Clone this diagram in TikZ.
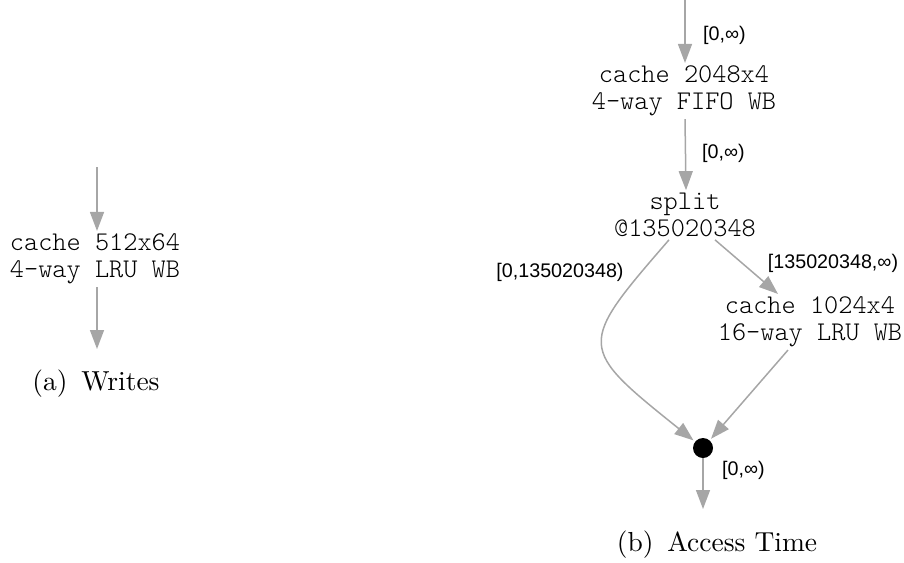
\documentclass[tikz,border=0pt]{standalone}
\usepackage{fontspec}
\newfontfamily\monof{lmmonolt10-regular.otf}
\newfontfamily\labf{Liberation Sans}
\newfontfamily\captf{lmroman10-regular.otf}
\usetikzlibrary{arrows.meta}
\definecolor{edgegray}{RGB}{166,166,166}
\tikzset{
  arr/.style={draw=edgegray, line width=1.5pt, -{Triangle[length=19pt,width=14pt]}},
  boxtext/.style={align=center, inner sep=3pt, font=\monof\fontsize{27}{26.5}\selectfont},
  elabel/.style={inner sep=0pt, font=\labf\fontsize{19.7}{22}\selectfont},
  capt/.style={inner sep=0pt, font=\captf\fontsize{27.5}{30}\selectfont},
  dotnode/.style={circle, fill=black, minimum size=20pt, inner sep=0pt},
}
\begin{document}
\begin{tikzpicture}[x=1pt, y=-1pt]
\useasboundingbox (0,0) rectangle (904,562);
% (a) Writes
\coordinate (a0) at (97,167);
\node[boxtext] (c1) at (95,259) {cache 512x64\\4-way LRU WB};
\coordinate (a1) at (97,349);
\draw[arr] (a0) -- (a0 |- c1.north);
\draw[arr] (a1 |- c1.south) -- (a1);
\node[capt] (capa) at (96,384) {(a)\hspace{0.5em}Writes};
% (b) Access Time
\coordinate (b0) at (685,0);
\node[boxtext] (c2) at (684,91) {cache 2048x4\\4-way FIFO WB};
\node[boxtext] (sp) at (685,215) {split\\@135020348};
\node[boxtext] (c3) at (810,322) {cache 1024x4\\16-way LRU WB};
\node[dotnode] (dot) at (703,448) {};
\coordinate (b1) at (703,509);
\draw[arr] (b0) -- (b0 |- c2.north);
\draw[arr] ([xshift=1pt]c2.south) -- ([xshift=1pt]sp.north);
\draw[arr] ([xshift=30pt]sp.south) -- ([xshift=-32pt]c3.north);
\draw[arr, shorten >=2pt] ([xshift=-16pt]sp.south) .. controls (577,346) and (577,347) .. (dot);
\draw[arr, shorten >=2pt] ([xshift=-22pt]c3.south) -- (dot);
\draw[arr] (dot) -- (b1);
\node[elabel, anchor=west] (l1) at (703,35) {[0,∞)};
\node[elabel, anchor=west] (l2) at (702,153) {[0,∞)};
\node[elabel] (l3) at (560,272) {[0,135020348)};
\node[elabel] (l4) at (833,263) {[135020348,∞)};
\node[elabel, anchor=west] (l5) at (722,470) {[0,∞)};
\node[capt] (capb) at (717,545) {(b)\hspace{0.5em}Access Time};
\end{tikzpicture}
\end{document}
